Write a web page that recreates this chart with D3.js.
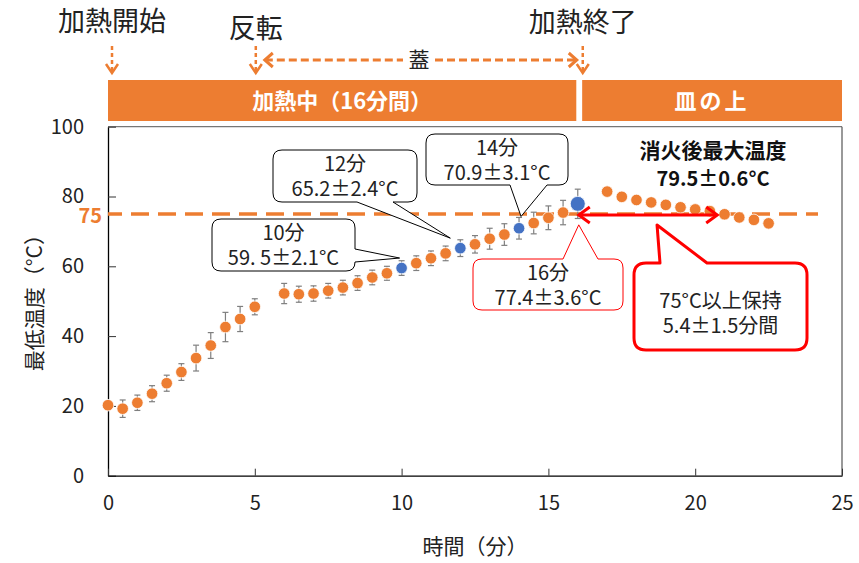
<!DOCTYPE html>
<html>
<head>
<meta charset="utf-8">
<script src="https://cdn.jsdelivr.net/npm/d3@7"></script>
<style>
  body { margin: 0; background: #fff; }
  text { font-family: "Noto Sans CJK JP", "Noto Sans", sans-serif; }
</style>
</head>
<body>
<div class="chart"></div>
<script>
// heating phase (mean, sd), every 0.5 min
const heatTimes = [0, 0.5, 1, 1.5, 2, 2.5, 3, 3.5, 4, 4.5, 5, 6, 6.5, 7, 7.5, 8, 8.5, 9, 9.5, 10, 10.5, 11, 11.5, 12, 12.5, 13, 13.5, 14, 14.5, 15, 15.5, 16]
const heatTemps = [20.2, 19.2, 20.9, 23.5, 26.5, 29.7, 33.7, 37.3, 42.6, 44.9, 48.4, 52.2, 52.0, 52.2, 53.0, 53.9, 55.2, 56.8, 58.0, 59.5, 60.9, 62.3, 63.7, 65.2, 66.3, 67.9, 69.1, 70.9, 72.4, 73.9, 75.4, 77.9]
const heatErrors = [0.8, 2.5, 2.2, 2.3, 2.3, 2.4, 3.7, 3.7, 4.2, 3.6, 2.3, 2.9, 2.3, 2.2, 2.1, 2.1, 2.1, 2.1, 2.0, 2.1, 2.1, 2.1, 2.1, 2.4, 2.5, 3.0, 3.1, 3.1, 3.1, 3.4, 3.5, 4.2]
const highlightTimes = [10, 12, 14, 16]

// after heating (on the plate)
const coolTimes = [17, 17.5, 18, 18.5, 19, 19.5, 20, 20.5, 21, 21.5, 22, 22.5]
const coolTemps = [81.4, 79.9, 79.0, 78.3, 77.6, 76.9, 76.3, 75.8, 74.9, 74.0, 73.3, 72.3]

const xTicks = [0, 5, 10, 15, 20, 25]
const yTicks = [0, 20, 40, 60, 80, 100]
const threshold = 75
const holdRange = [16, 20.75]

const ORANGE = '#ED7D31'
const BLUE = '#4472C4'
const RED = '#FF0000'

const width = 859
const height = 563

const svg = d3.select('.chart')
  .append('svg')
  .attr('width', width)
  .attr('height', height)

const x = d3.scaleLinear().domain([0, 25]).range([108, 842])
const y = d3.scaleLinear().domain([0, 100]).range([475.7, 126.7])

// frame
svg.append('line')
  .attr('x1', x(0)).attr('x2', x(25)).attr('y1', y(100)).attr('y2', y(100))
  .attr('stroke', '#777').attr('stroke-width', 1.2)
svg.append('line')
  .attr('x1', x(25)).attr('x2', x(25)).attr('y1', y(100)).attr('y2', y(0))
  .attr('stroke', '#555').attr('stroke-width', 1.2)

// axes
const yAxis = svg.append('g')
  .attr('transform', `translate(${x(0)},0)`)
  .call(d3.axisLeft(y).tickValues(yTicks).tickSizeInner(-8).tickSizeOuter(0).tickPadding(24))
yAxis.select('.domain').attr('stroke', '#000').attr('stroke-width', 1.3)
yAxis.selectAll('.tick line').attr('stroke', '#333')
yAxis.selectAll('.tick text')
  .attr('font-size', 20).attr('fill', '#222')
  .attr('font-family', '"Noto Sans CJK JP", sans-serif')

const xAxis = svg.append('g')
  .attr('transform', `translate(0,${y(0)})`)
  .call(d3.axisBottom(x).tickValues(xTicks).tickSizeInner(-7).tickSizeOuter(0).tickPadding(20))
xAxis.select('.domain').attr('stroke', '#000').attr('stroke-width', 1.3)
xAxis.selectAll('.tick line').attr('stroke', '#333')
xAxis.selectAll('.tick text')
  .attr('font-size', 20).attr('fill', '#222')
  .attr('font-family', '"Noto Sans CJK JP", sans-serif')

svg.append('text')
  .attr('x', x(12.5)).attr('y', 554)
  .attr('text-anchor', 'middle')
  .attr('font-size', 21).attr('fill', '#222')
  .text('時間（分）')

svg.append('text')
  .attr('transform', `translate(42,${y(51)}) rotate(-90)`)
  .attr('text-anchor', 'middle')
  .attr('font-size', 21).attr('fill', '#222')
  .text('最低温度（°C）')

// 75 threshold
svg.append('line')
  .attr('x1', x(0)).attr('x2', 818)
  .attr('y1', y(threshold)).attr('y2', y(threshold))
  .attr('stroke', ORANGE).attr('stroke-width', 3.5)
  .attr('stroke-dasharray', '18,9').attr('stroke-dashoffset', 4)
svg.append('text')
  .attr('x', 102).attr('y', y(threshold) + 9)
  .attr('text-anchor', 'end')
  .attr('font-size', 20).attr('font-weight', 'bold').attr('fill', ORANGE)
  .text(threshold)

// error bars
const heat = heatTimes.map((t, i) => ({ t, v: heatTemps[i], e: heatErrors[i] }))
const bars = svg.append('g').selectAll('g').data(heat).enter().append('g')
  .attr('stroke', '#7f7f7f').attr('stroke-width', 1.2)
bars.append('line')
  .attr('x1', d => x(d.t)).attr('x2', d => x(d.t))
  .attr('y1', d => y(d.v - d.e)).attr('y2', d => y(d.v + d.e))
bars.selectAll('.cap')
  .data(d => [[d.t, d.v - d.e], [d.t, d.v + d.e]])
  .enter().append('line')
  .attr('x1', d => x(d[0]) - 3).attr('x2', d => x(d[0]) + 3)
  .attr('y1', d => y(d[1])).attr('y2', d => y(d[1]))

// markers
const cool = coolTimes.map((t, i) => ({ t, v: coolTemps[i] }))
svg.append('g').selectAll('circle')
  .data(heat.concat(cool))
  .enter().append('circle')
  .attr('cx', d => x(d.t)).attr('cy', d => y(d.v))
  .attr('r', d => d.t === 16 ? 7.5 : 5.8)
  .attr('fill', d => highlightTimes.includes(d.t) ? BLUE : ORANGE)
  .attr('stroke', '#fff').attr('stroke-width', 0.8)

// header bars
const topBars = [
  { from: 0, to: 15.95, label: '加熱中（16分間）', ls: 0 },
  { from: 16.15, to: 25, label: '皿の上', ls: 3 },
]
svg.append('g').selectAll('rect').data(topBars).enter().append('rect')
  .attr('x', d => x(d.from)).attr('width', d => x(d.to) - x(d.from))
  .attr('y', 80).attr('height', 41)
  .attr('fill', ORANGE)
svg.append('g').selectAll('text').data(topBars).enter().append('text')
  .attr('x', d => (x(d.from) + x(d.to)) / 2).attr('y', 109)
  .attr('text-anchor', 'middle')
  .attr('font-size', 22).attr('font-weight', 'bold').attr('fill', '#fff')
  .attr('letter-spacing', d => d.ls)
  .text(d => d.label)

// events on top
const events = [
  { t: 0, label: '加熱開始', ty: 31, dx: 4 },
  { t: 5, label: '反転', ty: 38, dx: 1 },
  { t: 16, label: '加熱終了', ty: 32, dx: 5 },
]
events.forEach(ev => {
  const cx = x(ev.t) + ev.dx
  svg.append('text')
    .attr('x', cx).attr('y', ev.ty)
    .attr('text-anchor', 'middle')
    .attr('font-size', 27).attr('fill', '#222')
    .text(ev.label)
  svg.append('line')
    .attr('x1', cx).attr('x2', cx).attr('y1', 46).attr('y2', 72)
    .attr('stroke', ORANGE).attr('stroke-width', 2.5)
    .attr('stroke-dasharray', '4,3')
  svg.append('path')
    .attr('d', `M${cx - 6},${64} L${cx},${73} L${cx + 6},${64}`)
    .attr('fill', 'none').attr('stroke', ORANGE).attr('stroke-width', 2.5)
})

// lid arrow
const lidY = 60
const lidL = x(5) + 10
const lidR = x(16) - 1
svg.append('line')
  .attr('x1', lidL).attr('x2', 403).attr('y1', lidY).attr('y2', lidY)
  .attr('stroke', ORANGE).attr('stroke-width', 3).attr('stroke-dasharray', '8,4')
svg.append('line')
  .attr('x1', 435).attr('x2', lidR).attr('y1', lidY).attr('y2', lidY)
  .attr('stroke', ORANGE).attr('stroke-width', 3).attr('stroke-dasharray', '8,4')
svg.append('path')
  .attr('d', `M${lidL + 8},${lidY - 7} L${lidL},${lidY} L${lidL + 8},${lidY + 7}`)
  .attr('fill', 'none').attr('stroke', ORANGE).attr('stroke-width', 3)
svg.append('path')
  .attr('d', `M${lidR - 8},${lidY - 7} L${lidR},${lidY} L${lidR - 8},${lidY + 7}`)
  .attr('fill', 'none').attr('stroke', ORANGE).attr('stroke-width', 3)
svg.append('text')
  .attr('x', 419).attr('y', lidY + 7)
  .attr('text-anchor', 'middle')
  .attr('font-size', 21).attr('fill', '#222')
  .text('蓋')

// callouts
function calloutPath(b, r) {
  const { x0, y0, x1, y1, side, a, c, tip } = b
  let p = `M${x0 + r},${y0}`
  if (side === 'top') p += `L${a},${y0}L${tip[0]},${tip[1]}L${c},${y0}`
  p += `L${x1 - r},${y0}Q${x1},${y0} ${x1},${y0 + r}`
  if (side === 'right') p += `L${x1},${a}L${tip[0]},${tip[1]}L${x1},${c}`
  p += `L${x1},${y1 - r}Q${x1},${y1} ${x1 - r},${y1}`
  if (side === 'bottom') p += `L${c},${y1}L${tip[0]},${tip[1]}L${a},${y1}`
  p += `L${x0 + r},${y1}Q${x0},${y1} ${x0},${y1 - r}`
  p += `L${x0},${y0 + r}Q${x0},${y0} ${x0 + r},${y0}Z`
  return p
}

const callouts = [
  { lines: ['10分', '59. 5\u00B12.1°C'], x0: 212, y0: 219, x1: 355, y1: 271, side: 'right', a: 249, c: 262, tip: [x(10) - 2, y(59.5) - 10], stroke: '#000', sw: 1 },
  { lines: ['12分', '65.2\u00B12.4°C'], x0: 273, y0: 150, x1: 417, y1: 202, side: 'bottom', a: 357, c: 393, tip: [x(12) - 10, y(65.2) - 10], stroke: '#000', sw: 1 },
  { lines: ['14分', '70.9\u00B13.1°C'], x0: 426, y0: 134, x1: 568, y1: 185, side: 'bottom', a: 510, c: 547, tip: [x(14) + 2, y(70.9 + 3.1) - 1], stroke: '#000', sw: 1 },
  { lines: ['16分', '77.4\u00B13.6°C'], x0: 473, y0: 259, x1: 623, y1: 310, side: 'top', a: 563, c: 598, tip: [x(16) + 1, y(77.9) + 21], stroke: RED, sw: 1 },
  { lines: ['75°C以上保持', '5.4\u00B11.5分間'], x0: 634, y0: 263, x1: 807, y1: 350, side: 'top', a: 660, c: 707, tip: [x(18.7), y(threshold) + 11], stroke: RED, sw: 3, r: 12 },
]
callouts.forEach(b => {
  svg.append('path')
    .attr('d', calloutPath(b, b.r || 9))
    .attr('fill', '#fff')
    .attr('stroke', b.stroke).attr('stroke-width', b.sw)
    .attr('stroke-linejoin', 'round')
  const cx = (b.x0 + b.x1) / 2
  const big = b.sw > 1
  const midY = (b.y0 + b.y1) / 2 + (big ? 6 : 0)
  const label = svg.append('text')
    .attr('text-anchor', 'middle')
    .attr('font-size', 20).attr('fill', '#222')
  b.lines.forEach((t, i) => {
    label.append('tspan')
      .attr('x', cx).attr('y', midY + (i === 0 ? -5 : 20))
      .text(t)
  })
})

// red hold arrow
const holdY = y(threshold) + 1
const hx0 = x(holdRange[0]) + 1
const hx1 = x(holdRange[1])
svg.append('line')
  .attr('x1', hx0).attr('x2', hx1).attr('y1', holdY).attr('y2', holdY)
  .attr('stroke', RED).attr('stroke-width', 3)
svg.append('path')
  .attr('d', `M${hx0 + 11},${holdY - 8} L${hx0},${holdY} L${hx0 + 11},${holdY + 8}`)
  .attr('fill', 'none').attr('stroke', RED).attr('stroke-width', 3)
svg.append('path')
  .attr('d', `M${hx1 - 11},${holdY - 8} L${hx1},${holdY} L${hx1 - 11},${holdY + 8}`)
  .attr('fill', 'none').attr('stroke', RED).attr('stroke-width', 3)

// max after heating
svg.append('text')
  .attr('x', 713).attr('y', 158)
  .attr('text-anchor', 'middle')
  .attr('font-size', 21).attr('font-weight', 'bold').attr('fill', '#111')
  .text('消火後最大温度')
svg.append('text')
  .attr('x', 713).attr('y', 186)
  .attr('text-anchor', 'middle')
  .attr('font-size', 20).attr('font-weight', 'bold').attr('fill', '#111')
  .text('79.5\u00B10.6°C')
</script>
</body>
</html>
